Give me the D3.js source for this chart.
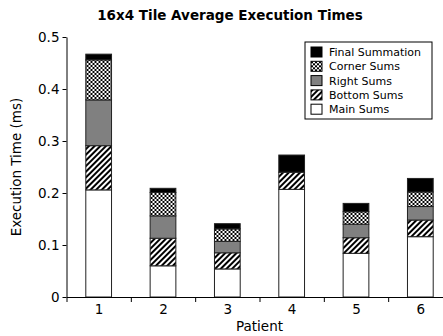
<!DOCTYPE html>
<html>
<head>
<meta charset="utf-8">
<script src="https://cdn.jsdelivr.net/npm/d3@7"></script>
<style>
  body { margin: 0; background: #fff; }
  text { font-family: "DejaVu Sans", sans-serif; }
</style>
</head>
<body>
<div id="chart"></div>
<script>
// data (ms)
var patients = [1, 2, 3, 4, 5, 6];
var mainSums = [0.206, 0.060, 0.054, 0.207, 0.084, 0.116];
var bottomSums = [0.085, 0.053, 0.031, 0.033, 0.030, 0.032];
var rightSums = [0.088, 0.043, 0.022, 0.000, 0.026, 0.026];
var cornerSums = [0.077, 0.045, 0.024, 0.000, 0.024, 0.028];
var finalSums = [0.011, 0.008, 0.010, 0.033, 0.016, 0.026];
var seriesNames = ["Main Sums", "Bottom Sums", "Right Sums", "Corner Sums", "Final Summation"];
var yTicks = [0, 0.1, 0.2, 0.3, 0.4, 0.5];

var svgWidth = 443;
var svgHeight = 336;
var margin = { top: 37, left: 66.5 };
var width = 386;
var height = 260;

var svg = d3.select("#chart")
    .append("svg")
    .attr("width", svgWidth)
    .attr("height", svgHeight);

// fill patterns
var defs = svg.append("defs");
var hatch = defs.append("pattern")
    .attr("id", "hatch")
    .attr("patternUnits", "userSpaceOnUse")
    .attr("width", 4).attr("height", 4)
    .attr("patternTransform", "rotate(45)");
hatch.append("rect").attr("width", 4).attr("height", 4).attr("fill", "#fff");
hatch.append("rect").attr("width", 2).attr("height", 4).attr("fill", "#000");

var checker = defs.append("pattern")
    .attr("id", "checker")
    .attr("patternUnits", "userSpaceOnUse")
    .attr("width", 4).attr("height", 4);
checker.append("rect").attr("width", 4).attr("height", 4).attr("fill", "#fff");
checker.append("rect").attr("width", 2).attr("height", 2).attr("fill", "#000");
checker.append("rect").attr("x", 2).attr("y", 2).attr("width", 2).attr("height", 2).attr("fill", "#000");

var fills = {
    "Main Sums": "#fff",
    "Bottom Sums": "url(#hatch)",
    "Right Sums": "#808080",
    "Corner Sums": "url(#checker)",
    "Final Summation": "#000"
};

var table = patients.map(function (p, i) {
    return {
        patient: p,
        "Main Sums": mainSums[i],
        "Bottom Sums": bottomSums[i],
        "Right Sums": rightSums[i],
        "Corner Sums": cornerSums[i],
        "Final Summation": finalSums[i]
    };
});
var stacked = d3.stack().keys(seriesNames)(table);

var chartGroup = svg.append("g")
    .attr("transform", `translate(${margin.left}, ${margin.top})`);

var x = d3.scaleLinear().domain([0.5, 6.5]).range([0, width]);
var y = d3.scaleLinear().domain([0, 0.5]).range([height, 0]);
var barW = x(0.4) - x(0);

// bars
chartGroup.append("g")
    .selectAll("g")
    .data(stacked)
    .enter()
    .append("g")
    .attr("fill", d => fills[d.key])
    .selectAll("rect")
    .data(d => d.filter(s => s[1] - s[0] > 0))
    .enter()
    .append("rect")
    .attr("x", d => x(d.data.patient) - barW / 2)
    .attr("y", d => y(d[1]))
    .attr("width", barW)
    .attr("height", d => y(d[0]) - y(d[1]))
    .attr("stroke", "#222")
    .attr("stroke-width", 1);

// y axis
var leftAxis = d3.axisLeft(y)
    .tickValues(yTicks)
    .tickSize(4)
    .tickSizeOuter(0)
    .tickFormat(d => d === 0 ? "0" : d3.format(".1f")(d));
var yAxisG = chartGroup.append("g").call(leftAxis);
yAxisG.selectAll("text").attr("font-size", 13.5).attr("font-family", "DejaVu Sans").attr("fill", "#000");

// x axis: ticks between patients
var boundaryAxis = d3.axisBottom(x)
    .tickValues(d3.range(0.5, 7, 1))
    .tickSize(5)
    .tickSizeOuter(0)
    .tickFormat("");
chartGroup.append("g")
    .attr("transform", `translate(0, ${height})`)
    .call(boundaryAxis);

var labelAxis = d3.axisBottom(x)
    .tickValues(patients)
    .tickSize(0)
    .tickPadding(7)
    .tickFormat(d3.format("d"));
var xLabG = chartGroup.append("g")
    .attr("transform", `translate(0, ${height})`)
    .call(labelAxis);
xLabG.select(".domain").remove();
xLabG.selectAll("text").attr("font-size", 13.5).attr("font-family", "DejaVu Sans").attr("fill", "#000");

chartGroup.selectAll(".domain, .tick line").attr("stroke", "#000");

// titles
svg.append("text")
    .attr("x", 230)
    .attr("y", 20)
    .attr("text-anchor", "middle")
    .attr("font-size", 13.5)
    .attr("font-weight", "bold")
    .text("16x4 Tile Average Execution Times");

svg.append("text")
    .attr("x", margin.left + width / 2)
    .attr("y", 331)
    .attr("text-anchor", "middle")
    .attr("font-size", 13.5)
    .text("Patient");

svg.append("text")
    .attr("transform", `translate(21, ${margin.top + height / 2}) rotate(-90)`)
    .attr("text-anchor", "middle")
    .attr("font-size", 13.5)
    .text("Execution Time (ms)");

// legend
var legend = svg.append("g").attr("transform", "translate(305, 42)");
legend.append("rect")
    .attr("width", 127)
    .attr("height", 77)
    .attr("fill", "#fff")
    .attr("stroke", "#000");

var legendOrder = seriesNames.slice().reverse();
var item = legend.selectAll(".item")
    .data(legendOrder)
    .enter()
    .append("g")
    .attr("class", "item")
    .attr("transform", (d, i) => `translate(6, ${5 + i * 14.3})`);
item.append("rect")
    .attr("width", 11)
    .attr("height", 10)
    .attr("fill", d => fills[d])
    .attr("stroke", "#000");
item.append("text")
    .attr("x", 18)
    .attr("y", 9)
    .attr("font-size", 11)
    .text(d => d);
</script>
</body>
</html>
